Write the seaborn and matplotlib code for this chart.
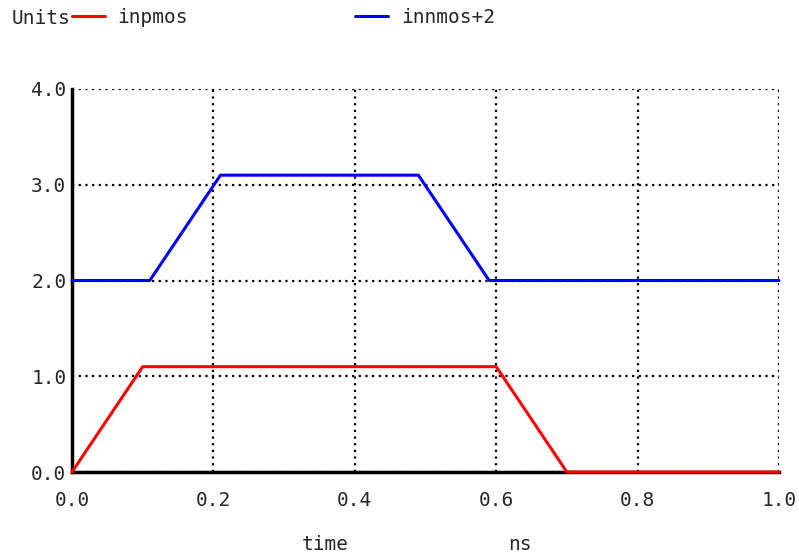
import numpy as np
import pandas as pd
import matplotlib
matplotlib.use('Agg')
import matplotlib.pyplot as plt
import seaborn as sns

# 波形数据 (time in ns)
inpmos_t = [0.0, 0.1, 0.6, 0.7, 1.0]
inpmos_v = [0.0, 1.1, 1.1, 0.0, 0.0]
innmos_t = [0.0, 0.11, 0.21, 0.49, 0.59, 1.0]
innmos_v = [2.0, 2.0, 3.1, 3.1, 2.0, 2.0]

x_ticks = [0.0, 0.2, 0.4, 0.6, 0.8, 1.0]
y_ticks = [0.0, 1.0, 2.0, 3.0, 4.0]

df = pd.concat([
    pd.DataFrame({'time': inpmos_t, 'value': inpmos_v, 'signal': 'inpmos'}),
    pd.DataFrame({'time': innmos_t, 'value': innmos_v, 'signal': 'innmos+2'}),
], ignore_index=True)

sns.set_style('white')
plt.rcParams['font.family'] = ['DejaVu Sans Mono']

fig = plt.figure(figsize=(7.99, 5.6), dpi=100)
ax = fig.add_axes([72 / 799, 1 - 472 / 560, 707 / 799, 383 / 560])

sns.lineplot(data=df, x='time', y='value', hue='signal',
             palette={'inpmos': '#ff0000', 'innmos+2': '#0000ff'},
             linewidth=2.2, sort=False, estimator=None, ax=ax, zorder=3)
for line in ax.lines:
    line.set_clip_on(False)

ax.set_xlim(0, 1.0)
ax.set_ylim(0, 4.0)
ax.set_xticks(x_ticks)
ax.set_yticks(y_ticks)
ax.set_xticklabels([f'{v:.1f}' for v in x_ticks], fontsize=14)
ax.set_yticklabels([f'{v:.1f}' for v in y_ticks], fontsize=14)
ax.tick_params(axis='x', length=0, pad=14)
ax.tick_params(axis='y', length=0, pad=4)

# 点状网格
ax.grid(True, color='black', linestyle=(0, (1, 2)), linewidth=1.6)
for s in ['top', 'right']:
    ax.spines[s].set_visible(False)
for s in ['left', 'bottom']:
    ax.spines[s].set_color('black')
    ax.spines[s].set_linewidth(2.5)
    ax.spines[s].set_zorder(2)

ax.set_ylabel('')
ax.set_xlabel('time', fontsize=14)
ax.xaxis.label.set_va('center')
ax.xaxis.set_label_coords((325 - 72) / 707, -0.19)
ax.text((520 - 72) / 707, -0.19, 'ns', transform=ax.transAxes,
        fontsize=14, ha='center', va='center')

# 图例
handles, labels = ax.get_legend_handles_labels()
ax.get_legend().remove()
fig.legend(handles, labels, loc='upper left', ncol=2,
           bbox_to_anchor=(72 / 799, 1 - 8 / 560), frameon=False,
           fontsize=14, handlelength=1.7, handletextpad=0.65,
           columnspacing=8.6, borderpad=0, borderaxespad=0)
fig.text(12 / 799, 1 - 19 / 560, 'Units', fontsize=14, ha='left', va='center')

plt.savefig('out.png', dpi=100)
plt.close()
